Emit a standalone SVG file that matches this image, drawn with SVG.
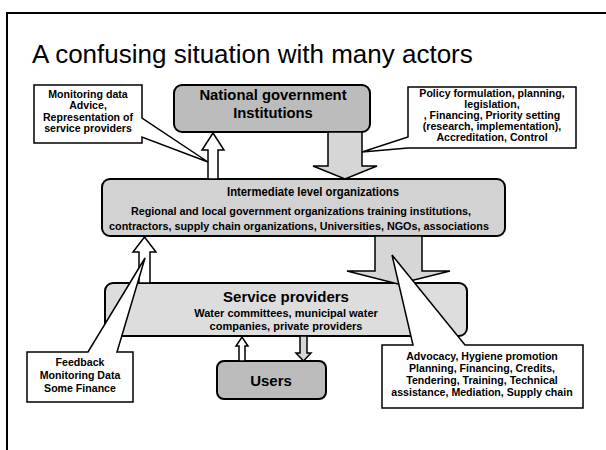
<svg xmlns="http://www.w3.org/2000/svg" width="606" height="450" viewBox="0 0 606 450">
<style>
text{font-family:"Liberation Sans",Arial,sans-serif;fill:#000;text-anchor:middle}
.title{font-size:26px;text-anchor:start}
.node{stroke:#000;stroke-width:2}
.nt{font-weight:bold}
.cal{fill:#fff;stroke:#000;stroke-width:1.5;stroke-linejoin:miter}
.ct{font-size:10.6px;font-weight:bold}
.up{fill:#fff;stroke:#000;stroke-width:1.5;stroke-linejoin:miter}
.dn{fill:#d6d6d6;stroke:#000;stroke-width:1.5;stroke-linejoin:miter}
</style>
<rect width="606" height="450" fill="#fff"/>
<path d="M7,450 V13 H606" fill="none" stroke="#000" stroke-width="2"/>
<text class="title" x="32" y="63">A confusing situation with many actors</text>

<g id="national">
<rect class="node" x="174" y="85" width="196" height="47" rx="8" fill="#bcbcbc"/>
<text class="nt" x="273" y="100" font-size="14.8">National government</text>
<text class="nt" x="273" y="118" font-size="14.8">Institutions</text>
</g>
<g id="intermediate">
<rect class="node" x="102" y="179" width="403" height="57" rx="8" fill="#d2d2d2"/>
<text class="nt" x="313" y="196" font-size="12.8" textLength="172" lengthAdjust="spacingAndGlyphs">Intermediate level organizations</text>
<text class="nt" x="301" y="215" font-size="10.8">Regional and local government organizations training institutions,</text>
<text class="nt" x="299" y="230" font-size="10.8">contractors, supply chain organizations, Universities, NGOs, associations</text>
</g>
<g id="service">
<rect class="node" x="105" y="283" width="362" height="53" rx="8" fill="#dddddd"/>
<text class="nt" x="286" y="302" font-size="15">Service providers</text>
<text class="nt" x="286" y="317" font-size="11">Water committees, municipal water</text>
<text class="nt" x="286" y="330" font-size="11">companies, private providers</text>
</g>
<g id="users">
<rect class="node" x="217" y="361" width="109" height="38" rx="7" fill="#bcbcbc"/>
<text class="nt" x="271" y="386" font-size="15">Users</text>
</g>

<g id="connectors">
<polygon class="up" points="208,179 208,150 202,150 213,133 224,150 218,150 218,179"/>
<polygon class="dn" points="328,132 328,166 313,166 345,179 377,166 362,166 362,132"/>
<polygon class="dn" points="375,236 375,271 347,271 398,284 450,271 422,271 422,236"/>
<polygon class="up" points="139,283 139,252 133,252 144.5,237 156,252 150,252 150,283"/>
<polygon class="up" points="239,361 239,346 236,346 242,337 248,346 245,346 245,361"/>
<polygon class="dn" points="300,336 300,353 296,353 303.5,361 311,353 307,353 307,336"/>
</g>

<g id="callout-top-left">
<path class="cal" d="M34,85 H142 V118 L208,162 L142,137 V143 H34 Z"/>
<text class="ct" x="88" y="98">Monitoring data</text>
<text class="ct" x="88" y="109">Advice,</text>
<text class="ct" x="88" y="121">Representation of</text>
<text class="ct" x="88" y="132">service providers</text>
</g>
<g id="callout-top-right">
<path class="cal" d="M408,87 H576 V148 H408 L362,152 L408,137 Z"/>
<text class="ct" x="492" y="97">Policy formulation, planning,</text>
<text class="ct" x="492" y="108">legislation,</text>
<text class="ct" x="492" y="119">, Financing, Priority setting</text>
<text class="ct" x="492" y="130">(research, implementation),</text>
<text class="ct" x="492" y="141">Accreditation, Control</text>
</g>
<g id="callout-bottom-left">
<path class="cal" d="M27,352 H88 L145,258 L117,352 H133 V402 H27 Z"/>
<text class="ct" x="80" y="366">Feedback</text>
<text class="ct" x="80" y="379">Monitoring Data</text>
<text class="ct" x="80" y="392">Some Finance</text>
</g>
<g id="callout-bottom-right">
<path class="cal" d="M382,345 H413 L392,255 L465,345 H583 V408 H382 Z"/>
<text class="ct" x="482" y="360" font-size="11.2">Advocacy, Hygiene promotion</text>
<text class="ct" x="482" y="372" font-size="11.2">Planning, Financing, Credits,</text>
<text class="ct" x="482" y="384" font-size="11.2">Tendering, Training, Technical</text>
<text class="ct" x="482" y="396" font-size="11.2">assistance, Mediation, Supply chain</text>
</g>
</svg>
